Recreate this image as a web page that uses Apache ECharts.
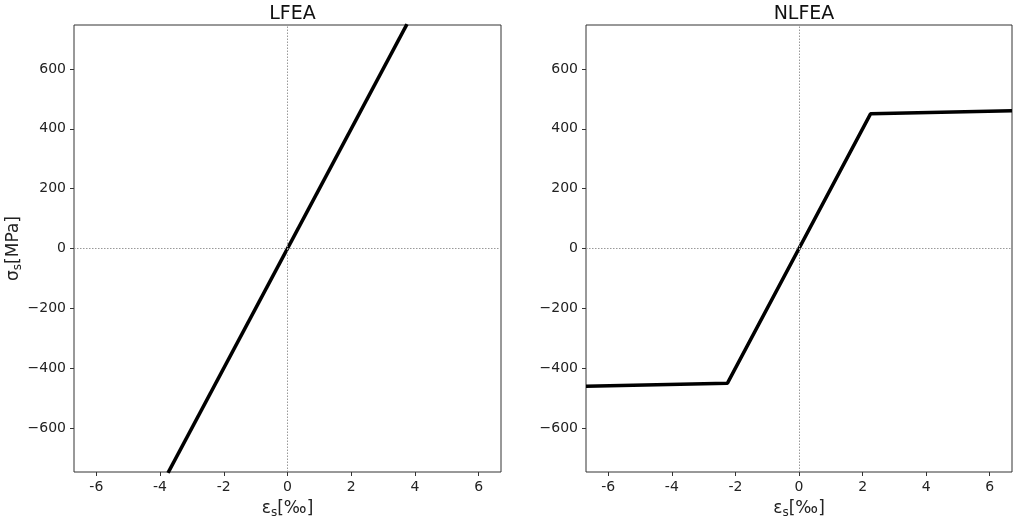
<!DOCTYPE html>
<html>
<head>
<meta charset="utf-8">
<script src="https://cdn.jsdelivr.net/npm/echarts@6/dist/echarts.min.js"></script>
<style>html,body{margin:0;padding:0;background:#fff}#c{width:1013px;height:517px}</style>
</head>
<body>
<div id="c"></div>
<script>
const titles = ['LFEA', 'NLFEA'];
const lfeaStrain = [-3.75, 3.75];
const lfeaStress = [-750, 750];
const nlfeaStrain = [-6.7, -2.25, 2.25, 6.7];
const nlfeaStress = [-460, -450, 450, 460];
const xTicks = [-6, -4, -2, 0, 2, 4, 6];
const yTicks = [-600, -400, -200, 0, 200, 400, 600];

const chart = echarts.init(document.getElementById('c'));
const font = 'DejaVu Sans';
const grids = [
  {left: 74, top: 25, width: 427, height: 447},
  {left: 586, top: 25, width: 426, height: 447}
];
const nameStyle = {
  fontFamily: font, fontSize: 17, color: '#222', lineHeight: 20,
  rich: {s: {fontFamily: font, fontSize: 12, color: '#222', lineHeight: 20, verticalAlign: 'bottom', padding: [0, 0, 0, 0]}}
};
function xAxis(i) {
  return {
    type: 'value', gridIndex: i, min: -6.7, max: 6.7,
    name: 'ε{s|s}[‰]', nameLocation: 'middle', nameGap: 21,
    nameTextStyle: nameStyle,
    axisLine: {show: false, onZero: false},
    axisTick: {show: true, length: 4, lineStyle: {color: '#333'}, customValues: xTicks},
    axisLabel: {fontFamily: font, fontSize: 14, color: '#222', margin: 8,
      customValues: xTicks, formatter: v => String(v)},
    splitLine: {show: false}
  };
}
function yAxis(i) {
  const a = {
    type: 'value', gridIndex: i, min: -747, max: 747,
    axisLine: {show: false, onZero: false},
    axisTick: {show: true, length: 4, lineStyle: {color: '#333'}, customValues: yTicks},
    axisLabel: {fontFamily: font, fontSize: 14, color: '#222', margin: 8,
      customValues: yTicks, formatter: v => String(v).replace('-', '\u2212')},
    splitLine: {show: false}
  };
  if (i === 0) {
    a.name = 'σ{s|s}[MPa]';
    a.nameLocation = 'middle';
    a.nameGap = 47;
    a.nameTextStyle = nameStyle;
  }
  return a;
}

function series(i, xs, ys) {
  return {
    type: 'line', xAxisIndex: i, yAxisIndex: i,
    data: xs.map((x, k) => [x, ys[k]]),
    showSymbol: false, symbol: 'none', clip: true,
    lineStyle: {color: '#000', width: 3.5},
    animation: false,
    markLine: {
      silent: true, symbol: ['none', 'none'], animation: false,
      label: {show: false},
      lineStyle: {color: '#999', type: [1.5, 1.5], width: 1},
      data: [{xAxis: 0}, {yAxis: 0}]
    }
  };
}

chart.setOption({
  animation: false,
  backgroundColor: '#fff',
  title: titles.map((t, i) => ({
    text: t, left: grids[i].left + grids[i].width / 2, top: 0, textAlign: 'center',
    textStyle: {fontFamily: font, fontSize: 19, fontWeight: 'normal', color: '#111'}
  })),
  grid: grids.map(g => Object.assign({show: true, borderColor: '#333', borderWidth: 1, backgroundColor: 'transparent', containLabel: false, outerBoundsMode: 'none'}, g)),
  xAxis: [xAxis(0), xAxis(1)],
  yAxis: [yAxis(0), yAxis(1)],
  series: [series(0, lfeaStrain, lfeaStress), series(1, nlfeaStrain, nlfeaStress)]
});
</script>
</body>
</html>
